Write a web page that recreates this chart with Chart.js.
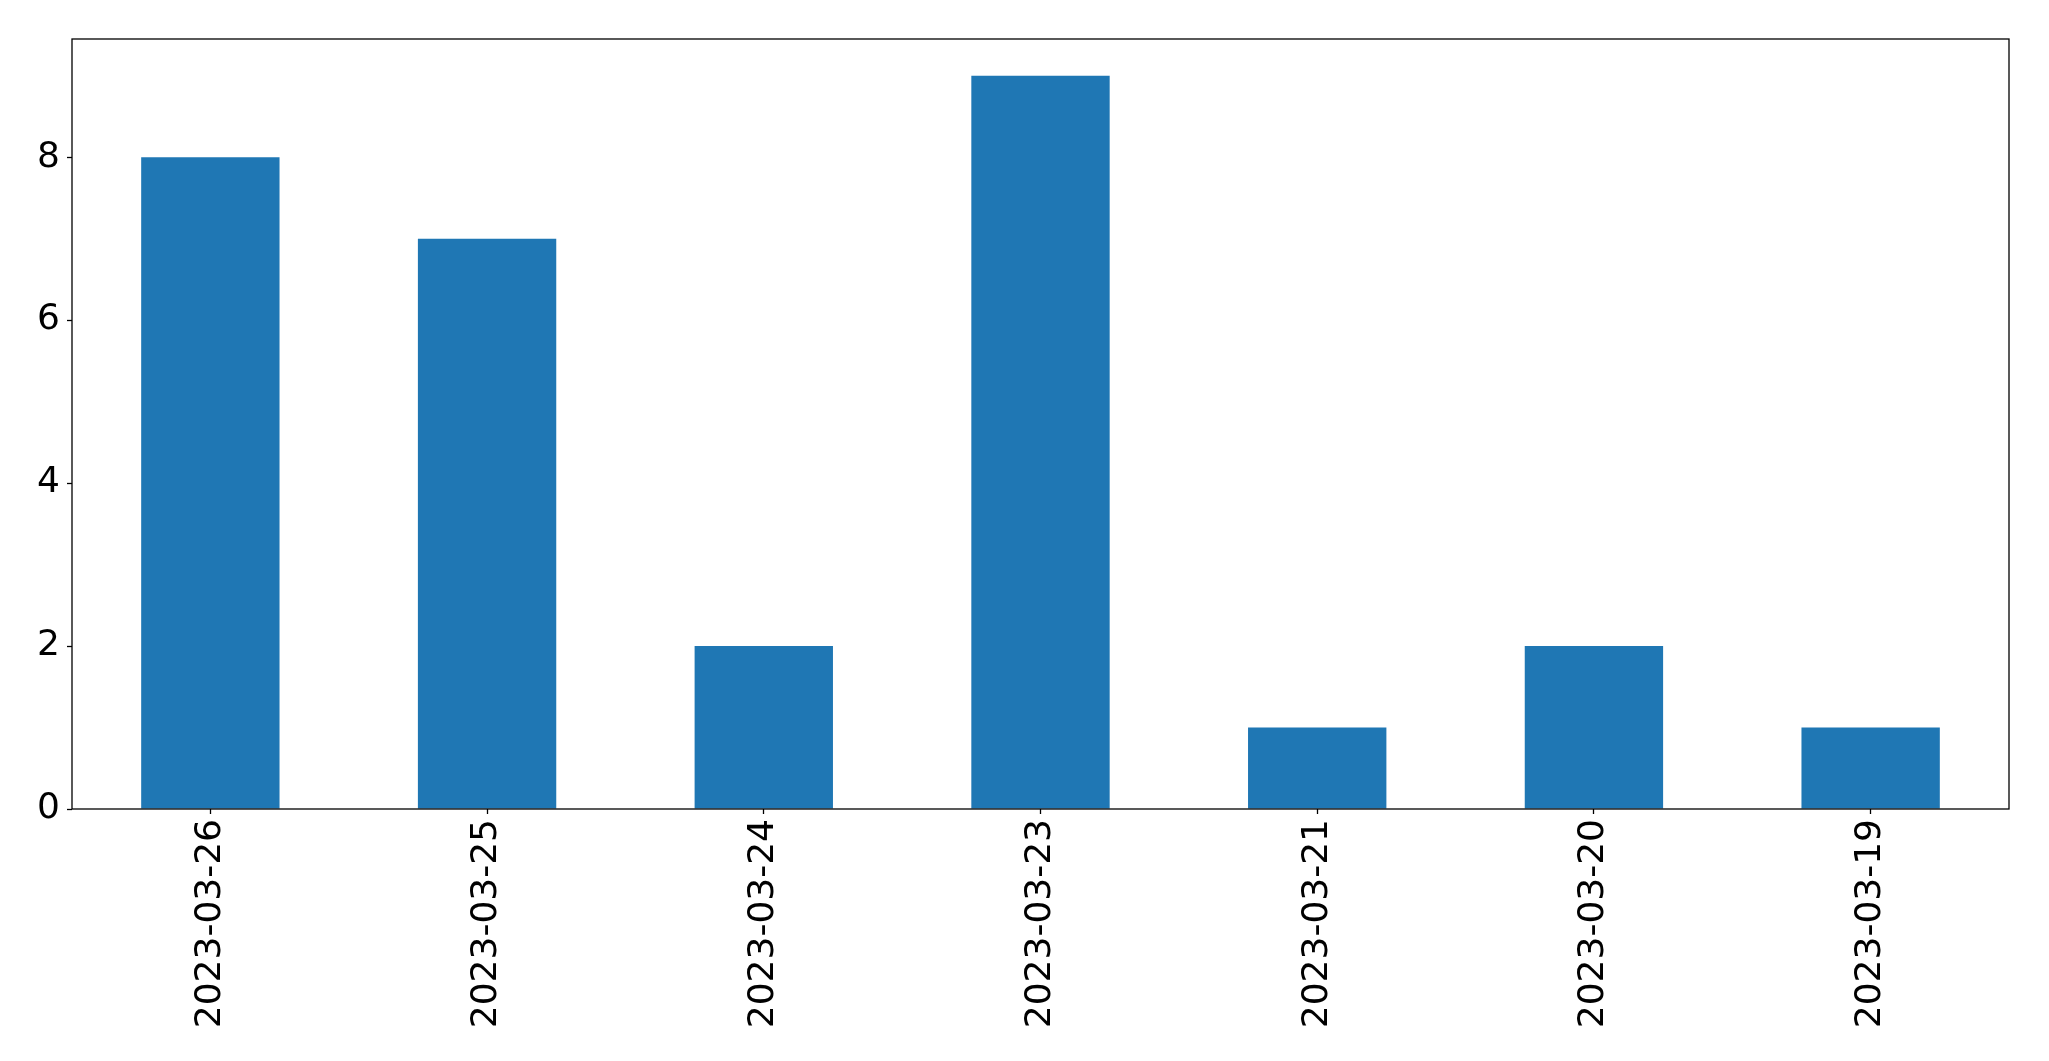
<!DOCTYPE html>
<html>
<head>
<meta charset="utf-8">
<script src="https://cdn.jsdelivr.net/npm/chart.js@4"></script>
<style>
  html, body { margin: 0; padding: 0; background: #fff; }
  #wrap { width: 2049px; height: 1061px; }
</style>
</head>
<body>
<div id="wrap"><canvas id="chart" width="2049" height="1061"></canvas></div>
<script>
// dates as they appear on the x axis
const dates = ['2023-03-26', '2023-03-25', '2023-03-24', '2023-03-23', '2023-03-21', '2023-03-20', '2023-03-19'];
// count per date
const counts = [8, 7, 2, 9, 1, 2, 1];
// y axis ticks
const yTicks = [0, 2, 4, 6, 8];
const yMax = 9.45;

// draw the black box round the plot area
const frame = {
	id: 'frame',
	afterDraw(chart) {
		const { ctx, chartArea: a } = chart;
		ctx.save();
		ctx.strokeStyle = '#000';
		ctx.lineWidth = 1.3;
		ctx.strokeRect(a.left, a.top, a.right - a.left, a.bottom - a.top);
		ctx.restore();
	}
};

const ctx = document.getElementById('chart').getContext('2d');

const chart = new Chart(ctx, {
	type: 'bar',
	data: {
		labels: dates,
		datasets: [{
			data: counts,
			backgroundColor: '#1f77b4',
			borderWidth: 0,
			barPercentage: 0.5,
			categoryPercentage: 1
		}]
	},
	options: {
		responsive: false,
		animation: false,
		layout: { padding: { top: 39, right: 40, left: 0, bottom: 0 } },
		plugins: {
			legend: { display: false },
			tooltip: { enabled: false }
		},
		scales: {
			x: {
				grid: { drawOnChartArea: false, offset: false, tickLength: 5, color: '#000', tickWidth: 1.3 },
				border: { display: false },
				ticks: {
					color: '#000',
					font: { family: 'DejaVu Sans', size: 36 },
					minRotation: 90,
					maxRotation: 90,
					padding: 5
				},
				afterFit(axis) { axis.height = 252; }
			},
			y: {
				min: 0,
				max: yMax,
				grid: { drawOnChartArea: false, tickLength: 5, color: '#000', tickWidth: 1.3 },
				border: { display: false },
				ticks: {
					color: '#000',
					font: { family: 'DejaVu Sans', size: 36 },
					padding: 7
				},
				afterBuildTicks(axis) { axis.ticks = yTicks.map(v => ({ value: v })); },
				afterFit(axis) { axis.width = 72; }
			}
		}
	},
	plugins: [frame]
});
</script>
</body>
</html>
